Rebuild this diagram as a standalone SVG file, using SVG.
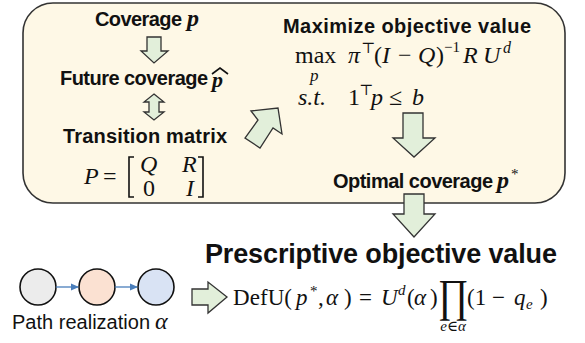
<svg xmlns="http://www.w3.org/2000/svg" width="585" height="343" viewBox="0 0 585 343">
<defs>
<style>
.lbl{font-family:"Liberation Sans",Arial,sans-serif;font-weight:bold;fill:#111}
.m{font-family:"Liberation Serif","DejaVu Serif",serif;fill:#111}
.mi{font-family:"Liberation Serif","DejaVu Serif",serif;font-style:italic;fill:#111}
.arr{fill:#e2efda;stroke:#333;stroke-width:1.3;stroke-linejoin:miter}
.node{stroke:#111;stroke-width:1.6}
.edge{stroke:#4a7ebb;stroke-width:1.3;fill:none}
</style>
<marker id="ah" markerWidth="8" markerHeight="8" refX="7" refY="4" orient="auto" markerUnits="userSpaceOnUse">
<path d="M0,0.5 L8,4 L0,7.5 Z" fill="#4a7ebb"/>
</marker>
</defs>
<rect width="585" height="343" fill="#fff"/>

<g id="panel">
<rect x="23" y="3" width="542" height="200" rx="30" ry="30" fill="#fef8e6" stroke="#333" stroke-width="1.6"/>
</g>

<g id="coverage">
<text class="lbl" x="95" y="26" font-size="20" textLength="87">Coverage</text>
<text class="mi" x="187" y="26" font-weight="bold" font-size="24">p</text>
</g>

<g id="future">
<text class="lbl" x="60" y="85" font-size="20" textLength="148">Future coverage</text>
<text class="mi" x="212" y="87" font-weight="bold" font-size="22">p</text>
<polyline points="212,74 220,68 228,74" fill="none" stroke="#111" stroke-width="1.6"/>
</g>

<g id="transition">
<text class="lbl" x="63" y="143" font-size="20" textLength="164">Transition matrix</text>
<text class="mi" x="84" y="184" font-size="24">P</text>
<text class="m" x="103" y="184" font-size="24">=</text>
<polyline points="134,157 129,157 129,197 134,197" fill="none" stroke="#111" stroke-width="1.6"/>
<polyline points="198,157 203,157 203,197 198,197" fill="none" stroke="#111" stroke-width="1.6"/>
<text class="mi" x="140" y="172" font-size="24">Q</text>
<text class="mi" x="182" y="172" font-size="24">R</text>
<text class="m" x="143" y="196" font-size="24">0</text>
<text class="mi" x="186" y="196" font-size="24">I</text>
</g>

<g id="maximize">
<text class="lbl" x="283" y="33" font-size="20" textLength="248">Maximize objective value</text>
<text class="m" x="295" y="63" font-size="24">max</text>
<text class="mi" x="310" y="81" font-size="17">p</text>
<text class="mi" x="348" y="63" font-size="24">π</text>
<text class="m" x="361" y="53" font-size="15">⊤</text>
<text class="m" x="374" y="63" font-size="24">(</text>
<text class="mi" x="382" y="63" font-size="24">I</text>
<text class="m" x="398" y="63" font-size="24">−</text>
<text class="mi" x="418" y="63" font-size="24">Q</text>
<text class="m" x="436" y="63" font-size="24">)</text>
<text class="m" x="444" y="52" font-size="15">−1</text>
<text class="mi" x="463" y="63" font-size="24">R</text>
<text class="mi" x="483" y="63" font-size="24">U</text>
<text class="mi" x="503" y="53" font-size="16">d</text>
<text class="mi" x="298" y="105" font-size="24">s.t.</text>
<text class="m" x="348" y="105" font-size="24">1</text>
<text class="m" x="359" y="95" font-size="15">⊤</text>
<text class="mi" x="371" y="105" font-size="24">p</text>
<text class="m" x="389" y="105" font-size="24">≤</text>
<text class="mi" x="412" y="105" font-size="24">b</text>
</g>

<g id="optimal">
<text class="lbl" x="333" y="188" font-size="20" textLength="160">Optimal coverage</text>
<text class="mi" x="497" y="188" font-weight="bold" font-size="24">p</text>
<text class="m" x="511" y="179" font-size="15">*</text>
</g>

<g id="prescriptive">
<text class="lbl" x="205" y="263" font-size="27" textLength="352">Prescriptive objective value</text>
<text class="m" x="233" y="305" font-size="23" textLength="59">DefU(</text>
<text class="mi" x="296" y="305" font-size="23">p</text>
<text class="m" x="310" y="296" font-size="15">*</text>
<text class="m" x="318" y="305" font-size="23">,</text>
<text class="mi" x="326" y="305" font-size="23">α</text>
<text class="m" x="344" y="305" font-size="23">)</text>
<text class="m" x="359" y="305" font-size="23">=</text>
<text class="mi" x="381" y="305" font-size="23">U</text>
<text class="mi" x="398" y="295" font-size="15">d</text>
<text class="m" x="407" y="305" font-size="23">(</text>
<text class="mi" x="414" y="305" font-size="23">α</text>
<text class="m" x="430" y="305" font-size="23">)</text>
<text class="m" transform="translate(453,311) scale(0.8,1)" font-size="46" text-anchor="middle">∏</text>
<text class="mi" x="453" y="331" font-size="15" text-anchor="middle">e∈α</text>
<text class="m" x="467" y="305" font-size="23">(1 −</text>
<text class="mi" x="514" y="305" font-size="23">q</text>
<text class="mi" x="526" y="309" font-size="15">e</text>
<text class="m" x="540" y="305" font-size="23">)</text>
</g>

<g id="path">
<circle class="node" cx="38" cy="287" r="18" fill="#ececec"/>
<circle class="node" cx="97" cy="287" r="18" fill="#fbe1d2"/>
<circle class="node" cx="156" cy="287" r="18" fill="#d9e3f4"/>
<text x="12" y="329" font-family="'Liberation Sans',Arial,sans-serif" font-size="20" fill="#111" textLength="138">Path realization</text>
<text class="mi" x="155" y="329" font-size="24">α</text>
</g>

<g id="connectors">
<line class="edge" x1="56" y1="287" x2="78" y2="287" marker-end="url(#ah)"/>
<line class="edge" x1="115" y1="287" x2="137" y2="287" marker-end="url(#ah)"/>
<polygon class="arr" points="147,37 161,37 161,51 168,51 154,63 141,51 147,51"/>
<polygon class="arr" points="154,94 164,102 159,102 159,112 164,112 154,120 144,112 149,112 149,102 144,102"/>
<polygon class="arr" points="251,111 278,108 282,134 273,128 260,148 245,138 258,120"/>
<polygon class="arr" points="403,113 423,113 423,138 435,138 414,157 393,138 403,138"/>
<polygon class="arr" points="404,194 424,194 424,214 435,214 414,237 393,214 404,214"/>
<polygon class="arr" points="192,289 208,289 208,282 227,297 208,313 208,305 192,305"/>
</g>
</svg>
